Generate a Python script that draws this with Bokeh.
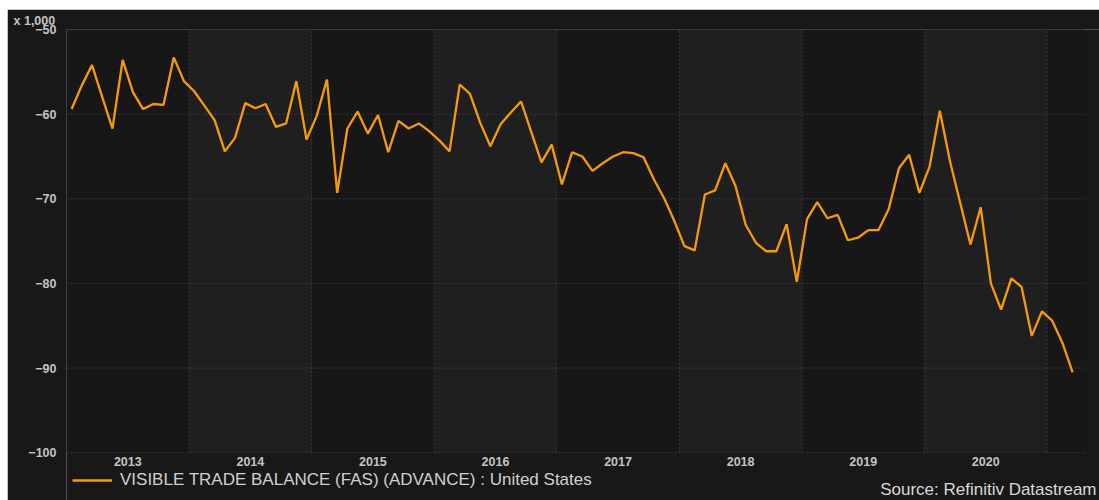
import pandas as pd
from bokeh.plotting import figure
from bokeh.layouts import column, row
from bokeh.core.properties import value
from bokeh.models import (Range1d, FixedTicker, Label, LabelSet, Legend, LegendItem,
                          BoxAnnotation, Title, Spacer, ColumnDataSource)
from bokeh.embed import file_html
from bokeh.resources import INLINE

# ---- data (US visible trade balance, advance, x 1,000 million USD) ----
start_month = "2013-01"
values = [
    # 2013
    -59.4, -56.6, -54.2, -58.0, -61.7, -53.6, -57.4, -59.4, -58.8, -58.9, -53.3, -56.1,
    # 2014
    -57.3, -59.0, -60.7, -64.4, -62.8, -58.7, -59.3, -58.8, -61.5, -61.1, -56.1, -63.0,
    # 2015
    -60.2, -55.9, -69.3, -61.7, -59.7, -62.3, -60.1, -64.5, -60.8, -61.7, -61.1, -62.0,
    # 2016
    -63.1, -64.4, -56.5, -57.6, -61.0, -63.8, -61.2, -59.8, -58.5, -62.1, -65.7, -63.6,
    # 2017
    -68.3, -64.5, -65.0, -66.7, -65.8, -65.0, -64.5, -64.6, -65.1, -67.7, -69.9, -72.6,
    # 2018
    -75.6, -76.1, -69.5, -69.0, -65.8, -68.5, -73.1, -75.2, -76.2, -76.2, -73.0, -79.8,
    # 2019
    -72.4, -70.4, -72.3, -71.9, -74.9, -74.6, -73.7, -73.7, -71.2, -66.4, -64.8, -69.3,
    # 2020
    -66.2, -59.6, -65.6, -70.5, -75.4, -71.0, -80.0, -83.1, -79.4, -80.4, -86.2, -83.3,
    # 2021
    -84.4, -87.0, -90.5,
]
year_labels = ["2013", "2014", "2015", "2016", "2017", "2018", "2019", "2020"]
year_bounds = [2013, 2014, 2015, 2016, 2017, 2018, 2019, 2020, 2021]
shaded_years = [2014, 2016, 2018, 2020]
y_ticks = [-100, -90, -80, -70, -60, -50]
series_name = "VISIBLE TRADE BALANCE (FAS) (ADVANCE) : United States"
unit_label = "x 1,000"
source_text = "Source: Refinitiv Datastream"

dates = pd.date_range(start_month, periods=len(values), freq="MS")
xs = [d.year + (d.month - 0.5) / 12.0 for d in dates]

# ---- styling / layout constants ----
ORANGE = "#f59b0b"
TXT = "#c4c4c4"
GRID = "#3a3a3a"
BG = "#181818"
BAND = "#1f1f1f"
FONT = "Liberation Sans"

W, H = 1092, 491
LEFT, TOP = 59, 18
PX_PER_YEAR = 122.57
PX_PER_UNIT = 8.5
FRAME_W, FRAME_H = W - LEFT, H - TOP
X0 = 2013
X1 = X0 + FRAME_W / PX_PER_YEAR
Y_TOP = -50
Y_BOT = Y_TOP - FRAME_H / PX_PER_UNIT
GRID_X_END = X0 + 1018 / PX_PER_YEAR      # plot area ends before the right edge
PLOT_Y_MIN = min(y_ticks)

p = figure(
    width=W, height=H,
    x_range=Range1d(X0, X1), y_range=Range1d(Y_BOT, Y_TOP),
    x_axis_location=None,
    output_backend="svg", toolbar_location=None,
    min_border_left=LEFT, min_border_right=0, min_border_top=TOP, min_border_bottom=0,
    background_fill_color=BG, border_fill_color=BG,
    outline_line_color=None,
)
p.grid.visible = False

# dark plot area, then lighter bands for alternate years
p.add_layout(BoxAnnotation(left=X0, right=GRID_X_END, bottom=PLOT_Y_MIN, top=Y_TOP,
                           fill_color="#171717", fill_alpha=1.0, line_color=None,
                           level="image"))
for yr in shaded_years:
    p.add_layout(BoxAnnotation(left=yr, right=yr + 1, bottom=PLOT_Y_MIN, top=Y_TOP,
                               fill_color=BAND, fill_alpha=1.0, line_color=None,
                               level="image"))

# dotted grid lines (vertical at year boundaries, horizontal at value ticks)
p.segment(x0=year_bounds, x1=year_bounds,
          y0=[PLOT_Y_MIN] * len(year_bounds), y1=[Y_TOP] * len(year_bounds),
          line_color=GRID, line_dash="2 2", line_width=1)
p.segment(x0=[X0] * len(y_ticks), x1=[GRID_X_END] * len(y_ticks),
          y0=y_ticks, y1=y_ticks,
          line_color=GRID, line_dash="2 2", line_width=1)

r = p.line(xs, values, line_color=ORANGE, line_width=2.3)

# y axis
ax = p.yaxis[0]
ax.ticker = FixedTicker(ticks=y_ticks)
ax.axis_line_color = None
ax.major_tick_line_color = None
ax.minor_tick_line_color = None
ax.major_label_text_font = FONT
ax.major_label_text_font_style = "bold"
ax.major_label_text_font_size = "12.5px"
ax.major_label_text_color = TXT
ax.major_label_standoff = 4

# year labels centred in each year band
yl_src = ColumnDataSource(dict(x=[int(y) + 0.5 for y in year_labels],
                               y=[PLOT_Y_MIN - 1.0] * len(year_labels),
                               text=year_labels))
p.add_layout(LabelSet(x="x", y="y", text="text", source=yl_src,
                      text_align="center", text_baseline="middle",
                      text_font=value(FONT), text_font_style="bold",
                      text_font_size=value("12.5px"), text_color=TXT))

# unit label above the y axis
p.add_layout(Title(text=unit_label, align="left", offset=-53, standoff=4,
                   text_font=FONT, text_font_style="bold",
                   text_font_size="12.5px", text_color=TXT), "above")

# legend below the plot area
legend = Legend(items=[LegendItem(label=series_name, renderers=[r])],
                location=(6, 10), orientation="horizontal",
                padding=0, margin=0, spacing=0,
                glyph_width=40, glyph_height=20, label_height=20,
                label_standoff=8, label_text_font=FONT,
                label_text_font_size="17px", label_text_color="#d0d0d0",
                border_line_color=None, background_fill_alpha=0)
p.add_layout(legend)

# source note
p.add_layout(Label(x=X1, y=PLOT_Y_MIN - 46.5 / PX_PER_UNIT, x_offset=-3,
                   text=source_text, text_align="right", text_baseline="bottom",
                   text_font=FONT, text_font_size="17px", text_color="#d8d8d8"))

layout = column(Spacer(height=9, width=1099),
                row(Spacer(width=7, height=H), p, spacing=0),
                spacing=0)

open("out.html", "w").write(file_html(layout, INLINE))
